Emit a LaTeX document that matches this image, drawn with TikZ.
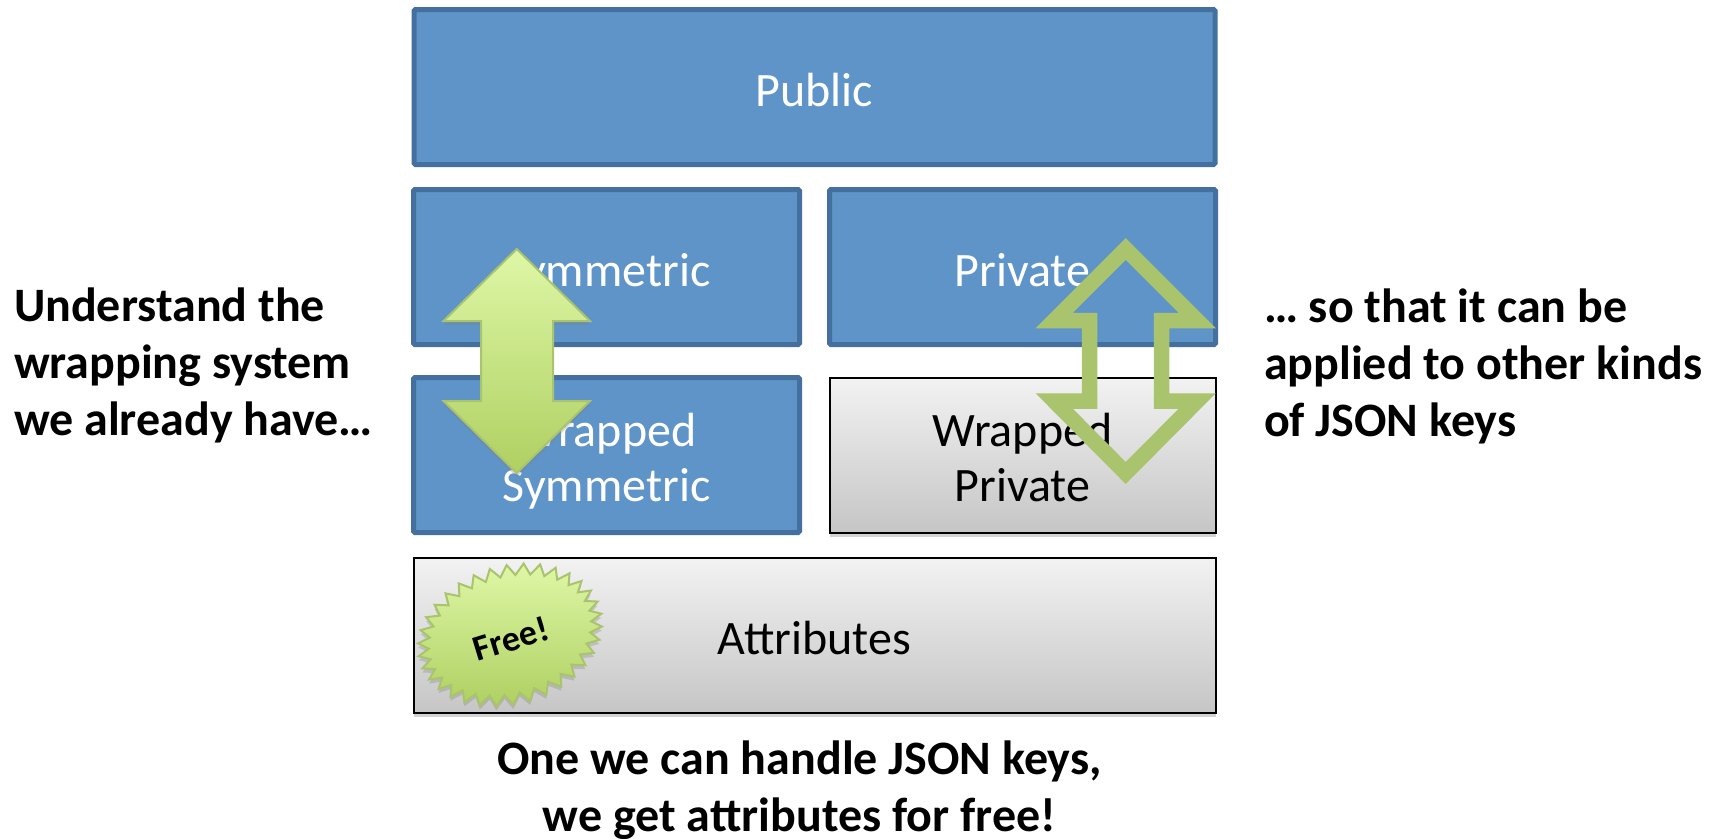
\documentclass[tikz,border=0pt]{standalone}
\usepackage{fontspec}
\setmainfont{Carlito}
\usetikzlibrary{positioning,shapes.symbols,shadows}
\definecolor{boxblue}{HTML}{5F94C9}
\definecolor{boxedge}{HTML}{44709F}
\definecolor{leafedge}{HTML}{A9C46C}
\definecolor{leaftop}{HTML}{DEF7A6}
\definecolor{leafbot}{HTML}{AFD062}
\begin{document}
\begin{tikzpicture}[x=1pt,y=-1pt,node distance=25pt and 30pt]
  \tikzstyle{every node}=[font=\fontsize{48}{55}\selectfont,align=center,inner sep=0pt,outer sep=0pt,
  			  text height=38pt,text depth=0pt]
  \tikzstyle{two lines}=[text height=93pt,text depth=0pt]
  \tikzstyle{blue box}=[rectangle,line width=5pt,draw=boxedge,fill=boxblue,text=white,
  			  rounded corners=1.5pt,minimum height=155pt,minimum width=386pt]
  \tikzstyle{gray box}=[rectangle,line width=2pt,draw=black,top color=gray!10,bottom color=gray!45,
  			  drop shadow={shadow xshift=0pt,shadow yshift=-4pt,opacity=.35},
  			  minimum height=155pt]
  \tikzstyle{green}=[draw=leafedge,line width=2pt,top color=leaftop,bottom color=leafbot,
  			  drop shadow={shadow xshift=0pt,shadow yshift=-4pt,opacity=.3}]
  \tikzstyle{side text}=[font=\fontsize{48}{57}\selectfont\bfseries,align=left,text height=,text depth=]
  \useasboundingbox (0,0) rectangle (1721,838);
  % key stack
  \node [blue box,minimum width=801pt] (public) at (814.5,87) {Public};
  \node [blue box] (sym) at (606.5,267) {Symmetric};
  \node [blue box,right=of sym] (priv) {Private};
  \node [blue box,two lines,below=33pt of sym] (wsym) {Wrapped\\Symmetric};
  \node [gray box,two lines,minimum width=386pt] (wpriv) at (1022.5,455) {Wrapped\\Private};
  \node [gray box,minimum width=802pt] (attr) at (814.5,635.5) {Attributes};
  % arrows over the stack
  \draw [green] (516.7,249) -- (590,321) -- (553,321) -- (553,401) -- (590,401) -- (516.7,473)
    -- (443.5,401) -- (481,401) -- (481,321) -- (443.5,321) -- cycle;
  \draw [draw=leafedge,line width=15.5pt] (1125.7,249) -- (1197.2,320.5) -- (1161.7,320.5) -- (1161.7,401)
    -- (1197.2,401) -- (1125.7,473) -- (1054.2,401) -- (1089.7,401) -- (1089.7,320.5) -- (1054.2,320.5) -- cycle;
  \node [starburst,starburst points=34,starburst point height=11pt,random starburst=0,green,
         minimum width=188pt,minimum height=138pt,rotate=17,text height=32pt,text depth=0pt,
         font=\fontsize{36}{40}\selectfont\bfseries] (free) at (510,635) {Free!};
  % remarks
  \node [side text,anchor=west] (left) at (14,365) {Understand the\\wrapping system\\we already have…};
  \node [side text,anchor=west] (right) at (1264,366) {… so that it can be\\applied to other kinds\\of JSON keys};
  \node [side text,align=center,anchor=center] (bottom) at (799.5,790) {One we can handle JSON keys,\\we get attributes for free!};
\end{tikzpicture}
\end{document}
